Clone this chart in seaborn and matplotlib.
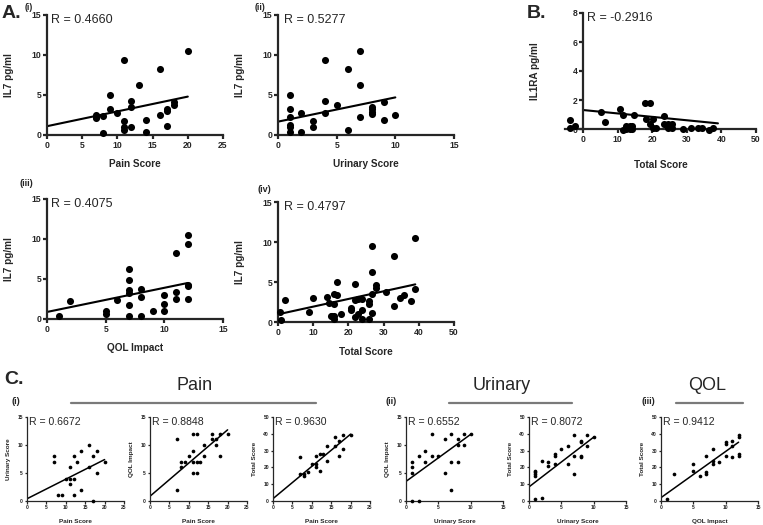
import matplotlib
matplotlib.use("Agg")
import matplotlib.pyplot as plt
from matplotlib.lines import Line2D
import seaborn as sns
import numpy as np
import pandas as pd

# --- data ---
# A (i) IL7 vs pain score
a1_pain = [7, 7, 7, 8, 8, 9, 9, 10, 11, 11, 11, 11, 12, 12, 12, 13, 14, 14, 16, 16, 17, 17, 17, 18, 18, 20]
a1_il7 = [2.5, 2.3, 2.1, 2.4, 0.3, 5.0, 3.3, 2.7, 9.4, 1.75, 0.95, 0.6, 4.25, 3.5, 1.0, 6.2, 1.9, 0.4,
          8.2, 2.5, 3.3, 3.0, 1.1, 4.1, 3.8, 10.5]
# A (ii) IL7 vs urinary score
a2_urinary = [1, 1, 1, 1, 1, 1, 2, 2, 3, 3, 4, 4, 4, 5, 6, 6, 7, 7, 7, 8, 8, 8, 8, 9, 9, 10]
a2_il7 = [5.0, 3.3, 2.3, 1.25, 0.95, 0.35, 2.7, 0.4, 1.75, 0.95, 9.4, 4.25, 2.7, 3.75, 8.25, 0.6,
          10.5, 6.2, 2.2, 3.5, 3.25, 2.9, 2.6, 4.1, 1.9, 2.5]
# A (iii) IL7 vs QOL impact
a3_qol = [1, 2, 5, 5, 6, 7, 7, 7, 7, 7, 7, 8, 8, 8, 9, 10, 10, 10, 11, 11, 11, 12, 12, 12, 12, 12]
a3_il7 = [0.33, 2.2, 1.0, 0.67, 2.33, 6.2, 4.9, 3.6, 3.25, 1.7, 0.33, 3.75, 2.7, 0.4, 0.96, 3.0, 1.9,
          1.04, 8.25, 3.33, 2.54, 10.5, 9.4, 4.3, 4.1, 2.5]
# A (iv) IL7 vs total score
a4_total = [0.7, 0.9, 1.9, 8.8, 9.9, 13.9, 14.6, 15, 15.3, 15.9, 15.9, 15.9, 15.9, 16.9, 16.9, 17.8,
            20.8, 20.8, 21.8, 21.8, 21.8, 22.8, 22.8, 24, 24, 24, 25.8, 25.8, 25.8, 26.8, 26.8, 26.8,
            26.8, 27.9, 27.9, 30.8, 32.9, 32.9, 34.8, 35.8, 37.9, 38.8, 38.8]
a4_il7 = [1.25, 0.3, 2.7, 1.25, 3.04, 3.1, 2.4, 0.8, 0.75, 3.54, 2.2, 0.8, 0.33, 3.33, 5.0, 1.0,
          1.75, 1.5, 4.8, 2.7, 0.6, 2.9, 0.96, 2.9, 1.5, 0.42, 2.6, 2.2, 0.42, 9.46, 6.25, 3.54,
          1.1, 4.6, 4.3, 3.75, 8.3, 1.96, 3.0, 3.33, 2.6, 10.5, 4.17]
# B IL1RA vs total score
b_total = [-3.7, -3.7, -2.4, 5.1, 6.3, 10.6, 11.6, 11.6, 12.5, 12.5, 13.5, 13.5, 14.3, 14.3, 14.8,
           18, 19.3, 18.1, 19.3, 20.3, 20.3, 21.2, 23.5, 23.5, 24.6, 25.6, 24.6, 25.6, 29, 31.2,
           33.3, 34.3, 36.5, 37.5]
b_il1ra = [0.62, 0.05, 0.2, 1.2, 0.46, 1.36, 0.97, -0.07, 0.2, 0, 0.2, 0, 0.2, 0, 0.97,
           1.77, 1.77, 0.7, 0.35, 0.7, 0.05, 0.05, 0.92, 0.35, 0.35, 0.35, 0.05, 0.05, 0, 0.05,
           0.05, 0.05, -0.1, 0.1]
# C score vs score
c1_pain = [7, 7, 8, 9, 10, 11, 11, 11, 12, 12, 12, 13, 14, 14, 16, 16, 17, 17, 18, 18, 20]
c1_urinary = [8, 7, 1, 1, 4, 6, 4, 3, 8, 4, 1, 7, 9, 2, 10, 6, 8, 0, 9, 5, 7]
c2_pain = [7, 7, 8, 8, 9, 10, 11, 11, 11, 11, 12, 12, 12, 13, 14, 14, 16, 16, 17, 17, 18, 18, 20]
c2_qol = [11, 2, 6, 7, 7, 8, 9, 7, 5, 12, 12, 7, 5, 7, 10, 8, 12, 11, 10, 11, 12, 8, 12]
c3_pain = [7, 7, 8, 8, 9, 10, 11, 11, 11, 12, 12, 13, 14, 14, 16, 16, 17, 17, 18, 18, 20]
c3_total = [26, 16, 16, 15, 17, 22, 27, 22, 20, 28, 18, 28, 33, 24, 38, 33, 36, 27, 39, 31, 39]
c4_urinary = [1, 1, 1, 1, 2, 2, 3, 3, 4, 4, 5, 6, 6, 7, 7, 7, 8, 8, 8, 9, 9, 10]
c4_qol = [7, 6, 5, 0, 0, 8, 9, 7, 12, 8, 8, 11, 5, 12, 7, 2, 11, 10, 7, 12, 10, 12]
c5_urinary = [1, 1, 1, 1, 1, 2, 2, 3, 3, 4, 4, 4, 5, 6, 6, 7, 7, 7, 8, 8, 8, 8, 9, 9, 10]
c5_total = [1, 18, 17, 16, 15, 24, 2, 23, 21, 28, 27, 22, 31, 33, 22, 39, 27, 16, 36, 35, 27, 26, 39, 33, 38]
c6_qol = [1, 2, 5, 5, 6, 7, 7, 7, 8, 8, 8, 9, 10, 10, 10, 11, 11, 11, 12, 12, 12, 12]
c6_total = [1, 16, 22, 18, 15, 27, 17, 16, 31, 24, 22, 23, 35, 34, 27, 36, 33, 26, 39, 38, 28, 27]

r_values = {"a1": "0.4660", "a2": "0.5277", "a3": "0.4075", "a4": "0.4797", "b": "-0.2916",
            "c1": "0.6672", "c2": "0.8848", "c3": "0.9630", "c4": "0.6552", "c5": "0.8072", "c6": "0.9412"}
# regression lines as drawn in the figure: intercept, slope, last x
fit_intercept = {"a1": 1.1, "a2": 1.67, "a3": 0.88, "a4": 0.96, "b": 1.31,
                 "c1": 0.4, "c2": 0.85, "c3": 1.4, "c4": 3.5, "c5": 8.4, "c6": 2.0}
fit_slope = {"a1": 0.185, "a2": 0.303, "a3": 0.302, "a4": 0.096, "b": -0.0236,
             "c1": 0.35, "c2": 0.593, "c3": 1.92, "c4": 0.84, "c5": 2.96, "c6": 2.75}
fit_xend = {"a1": 20, "a2": 10, "a3": 12, "a4": 39, "b": 39,
            "c1": 20, "c2": 20, "c3": 20, "c4": 10, "c5": 10, "c6": 12}

W, H = 763, 525

sns.set_style("ticks")
plt.rcParams["font.family"] = ["Liberation Sans", "DejaVu Sans"]

BIG = dict(s=26, lw_fit=1.5, spine=1.6, tick=6.2, label=7.2, rsize=9, ticklen=3)
SMALL = dict(s=7, lw_fit=1.1, spine=0.9, tick=3.6, label=4.6, rsize=7.6, ticklen=1.8)


def rect(x0, x1, y_top, y_bot):
    # pixel box -> figure fraction
    return [x0 / W, 1 - y_bot / H, (x1 - x0) / W, (y_bot - y_top) / H]


def ftext(fig, x, y, s, **kw):
    fig.text(x / W, 1 - y / H, s, **kw)


def panel(fig, box, xs, ys, key, xlim, ylim, xticks, yticks, xlabel, ylabel, st,
          xlab_y, ylab_x, r_pos, left_at_zero=False):
    ax = fig.add_axes(box)
    df = pd.DataFrame({"x": xs, "y": ys})
    sns.scatterplot(data=df, x="x", y="y", ax=ax, color="black", s=st["s"],
                    linewidth=0, clip_on=False, zorder=3)
    fx = np.array([0, fit_xend[key]])
    fit = pd.DataFrame({"x": fx, "y": fit_intercept[key] + fit_slope[key] * fx})
    sns.lineplot(data=fit, x="x", y="y", ax=ax, color="black", lw=st["lw_fit"], zorder=2)
    ax.set_xlim(*xlim)
    ax.set_ylim(*ylim)
    ax.set_xticks(xticks)
    ax.set_yticks(yticks)
    for side in ["top", "right"]:
        ax.spines[side].set_visible(False)
    for side in ["left", "bottom"]:
        ax.spines[side].set_linewidth(st["spine"])
    if left_at_zero:
        ax.spines["left"].set_position(("data", 0))
    ax.tick_params(width=st["spine"], length=st["ticklen"], labelsize=st["tick"], pad=1)
    for lab in ax.get_xticklabels() + ax.get_yticklabels():
        lab.set_fontweight("bold")
    ax.set_xlabel(xlabel, fontsize=st["label"], fontweight="bold")
    ax.set_ylabel(ylabel, fontsize=st["label"], fontweight="bold")
    ax.xaxis.set_label_coords(0.5, xlab_y)
    ax.yaxis.set_label_coords(ylab_x, 0.5)
    ax.text(r_pos[0], r_pos[1], "R = " + r_values[key], transform=ax.transAxes,
            fontsize=st["rsize"], va="center", ha="left")
    return ax


fig = plt.figure(figsize=(W / 100, H / 100), dpi=100)

# row A top
panel(fig, rect(47, 223, 15, 135), a1_pain, a1_il7, "a1", (0, 25), (0, 15), range(0, 26, 5), range(0, 16, 5),
      "Pain Score", "IL7 pg/ml", BIG, -0.2, -0.19, (0.025, 0.96))
panel(fig, rect(278, 454, 15, 135), a2_urinary, a2_il7, "a2", (0, 15), (0, 15), range(0, 16, 5), range(0, 16, 5),
      "Urinary Score", "IL7 pg/ml", BIG, -0.2, -0.19, (0.035, 0.96))
panel(fig, rect(565, 756, 13, 129), b_total, b_il1ra, "b", (-5.2, 50), (0, 8), range(0, 51, 10), range(0, 9, 2),
      "Total Score", "IL1RA pg/ml", BIG, -0.27, -0.13, (0.115, 0.955), left_at_zero=True)
# row A bottom
panel(fig, rect(47, 223, 199, 319), a3_qol, a3_il7, "a3", (0, 15), (0, 15), range(0, 16, 5), range(0, 16, 5),
      "QOL Impact", "IL7 pg/ml", BIG, -0.2, -0.19, (0.025, 0.96))
panel(fig, rect(278, 454, 202, 322), a4_total, a4_il7, "a4", (0, 50), (0, 15), range(0, 51, 10), range(0, 16, 5),
      "Total Score", "IL7 pg/ml", BIG, -0.21, -0.19, (0.035, 0.96))

# row C
cy = (417, 501)
c_specs = [
    (27, c1_pain, c1_urinary, 25, 15, "Pain Score", "Urinary Score", "c1"),
    (150, c2_pain, c2_qol, 25, 15, "Pain Score", "QOL Impact", "c2"),
    (273, c3_pain, c3_total, 25, 50, "Pain Score", "Total Score", "c3"),
    (406, c4_urinary, c4_qol, 15, 15, "Urinary Score", "QOL Impact", "c4"),
    (529, c5_urinary, c5_total, 15, 50, "Urinary Score", "Total Score", "c5"),
    (661, c6_qol, c6_total, 15, 50, "QOL Impact", "Total Score", "c6"),
]
for x0, xs, ys, xmax, ymax, xl, yl, key in c_specs:
    panel(fig, rect(x0, x0 + 97, cy[0], cy[1]), xs, ys, key, (0, xmax), (0, ymax),
          range(0, xmax + 1, 5), range(0, ymax + 1, 10 if ymax == 50 else 5),
          xl, yl, SMALL, -0.22, -0.17, (0.02, 0.94))

# panel letters and headings
ftext(fig, 2, 13, "A.", fontsize=14, fontweight="bold", va="center", ha="left")
ftext(fig, 25, 7, "(i)", fontsize=6.2, fontweight="bold", va="center", ha="left")
ftext(fig, 255, 7, "(ii)", fontsize=6.2, fontweight="bold", va="center", ha="left")
ftext(fig, 527, 14, "B.", fontsize=14, fontweight="bold", va="center", ha="left")
ftext(fig, 20, 183, "(iii)", fontsize=6.5, fontweight="bold", va="center", ha="left")
ftext(fig, 258, 190, "(iv)", fontsize=6.5, fontweight="bold", va="center", ha="left")
ftext(fig, 4, 379, "C.", fontsize=14, fontweight="bold", va="center", ha="left")
ftext(fig, 12, 402, "(i)", fontsize=6.5, fontweight="bold", va="center", ha="left")
ftext(fig, 385, 402, "(ii)", fontsize=6.5, fontweight="bold", va="center", ha="left")
ftext(fig, 642, 402, "(iii)", fontsize=6.5, fontweight="bold", va="center", ha="left")

for label, cx, x0, x1 in [("Pain", 195, 71, 316), ("Urinary", 502, 449, 572), ("QOL", 707, 676, 743)]:
    ftext(fig, cx, 386, label, fontsize=13, va="center", ha="center")
    fig.add_artist(Line2D([x0 / W, x1 / W], [1 - 403 / H] * 2, color="#7a7a7a", lw=1.6))

fig.savefig("out.png", dpi=100)
